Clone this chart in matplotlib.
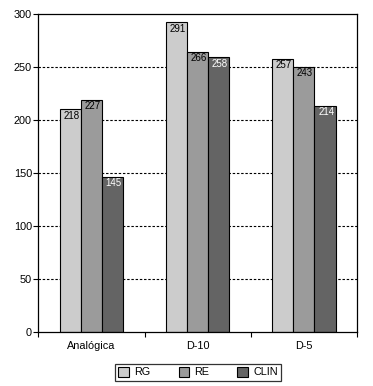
import matplotlib
matplotlib.use("Agg")
import matplotlib.pyplot as plt
import numpy as np
from matplotlib.patches import Patch

plt.rcParams['font.family'] = ['Liberation Sans', 'DejaVu Sans']

categories = ["Analógica", "D-10", "D-5"]
series = ["RG", "RE", "CLIN"]
rg_values = [210, 292, 258]
re_values = [219, 264, 250]
clin_values = [146, 259, 213]
rg_labels = ["218", "291", "257"]
re_labels = ["227", "266", "243"]
clin_labels = ["145", "258", "214"]
y_ticks = [0, 50, 100, 150, 200, 250, 300]

colors = ["#cccccc", "#9b9b9b", "#646464"]
label_colors = ["black", "black", "white"]

fig = plt.figure(figsize=(3.73, 3.86), dpi=100)
ax = fig.add_axes([0.1027, 0.1399, 0.957 - 0.1027, 0.9637 - 0.1399])

x = np.arange(len(categories))
width = 0.2
all_vals = [rg_values, re_values, clin_values]
all_labels = [rg_labels, re_labels, clin_labels]

ax.set_ylim(0, 300)
ax.set_xlim(-0.5, len(categories) - 0.5)
for yv in y_ticks[1:-1]:
    ax.axhline(yv, color="black", linewidth=0.8, linestyle=(0, (2.2, 1.6)), zorder=1)

for s, (vals, labs) in enumerate(zip(all_vals, all_labels)):
    bars = ax.bar(x + (s - 1) * width, vals, width, color=colors[s],
                  edgecolor="black", linewidth=0.8, zorder=2)
    for b, lab in zip(bars, labs):
        ax.annotate(lab, (b.get_x() + b.get_width() / 2 + 0.01, b.get_height()),
                    xytext=(0, -4.5), textcoords="offset points",
                    ha="center", va="center", fontsize=7,
                    color=label_colors[s], zorder=3)

ax.set_yticks(y_ticks)
ax.set_yticklabels([str(v) for v in y_ticks], fontsize=7.8)
ax.tick_params(axis="y", direction="out", length=3.6, width=0.8, pad=1)

ax.set_xticks(np.arange(-0.5, len(categories), 1.0))
ax.set_xticklabels([])
ax.tick_params(axis="x", which="major", direction="out", length=3.6, width=0.8)
ax.set_xticks(x, minor=True)
ax.set_xticklabels(categories, minor=True, fontsize=7.8)
ax.tick_params(axis="x", which="minor", length=0, pad=6.5)

for sp in ax.spines.values():
    sp.set_linewidth(0.9)
    sp.set_color("black")

handles = [Patch(facecolor=colors[i], edgecolor="black", linewidth=0.8, label=series[i]) for i in range(3)]
leg = fig.legend(handles=handles, loc="center", bbox_to_anchor=(0.531, 0.036), ncol=3,
                 fontsize=7.8, frameon=True, fancybox=False, handlelength=1.0, handleheight=1.0,
                 handletextpad=0.45, columnspacing=2.6, borderpad=0.3, borderaxespad=0)
leg.get_frame().set_edgecolor("black")
leg.get_frame().set_linewidth(0.9)

fig.savefig("out.png", dpi=100)
